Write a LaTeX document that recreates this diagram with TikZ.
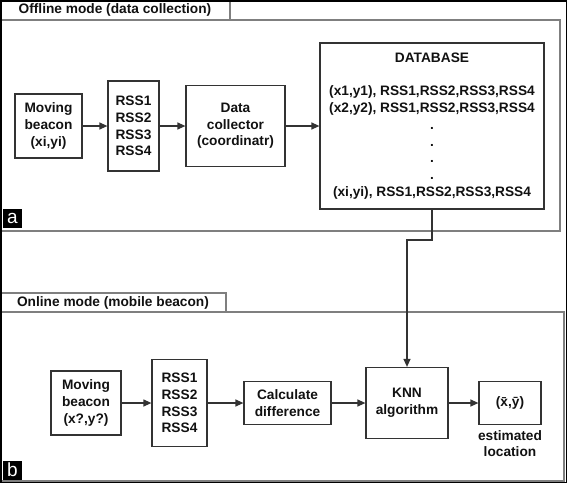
\documentclass[tikz,border=0pt]{standalone}
\usepackage{fontspec}
\setmainfont{Liberation Sans}
\usetikzlibrary{arrows.meta,positioning}

\definecolor{boxline}{HTML}{333333}
\definecolor{panelline}{HTML}{7F7F7F}
\definecolor{inktext}{HTML}{111111}

\begin{document}
\begin{tikzpicture}[x=1pt, y=-1pt,
  every node/.style = {font=\fontsize{13.7}{16.7}\selectfont\bfseries,
    text=inktext, align=center, inner sep=0pt},
  block/.style = {shape=rectangle, draw=boxline, line width=1.2pt},
  panel/.style = {draw=panelline, line width=1.5pt},
  tab/.style = {shape=rectangle, draw=panelline, line width=1.5pt, fill=white},
  tag/.style = {shape=rectangle, fill=black, text=white, minimum size=19pt,
    font=\fontsize{19}{19}\selectfont},
  arr/.style = {draw=boxline, line width=1.2pt,
    -{Triangle[length=8pt,width=7pt]}}]
  \useasboundingbox (0,0) rectangle (567,483);

  % offline mode
  \draw[panel] (0,20) rectangle (560,231);
  \node[tab, minimum width=230pt, minimum height=20pt] (taba) at (115,10)
    {Offline mode (data collection)};
  \node[tag] (taga) at (12.5,218) {a};

  \node[block, minimum width=67pt, minimum height=64pt] (beacona) at (48.5,126)
    {Moving\\beacon\\(xi,yi)};
  \node[block, minimum width=51pt, minimum height=90pt] (rssa) at (133.5,126)
    {RSS1\\RSS2\\RSS3\\RSS4};
  \node[block, minimum width=99pt, minimum height=81pt] (collector) at (235.5,126)
    {Data\\collector\\(coordinatr)};
  \node[block, minimum width=224pt, minimum height=166pt] (db) at (432,126)
    {DATABASE\\[16.7pt]
     (x1,y1), RSS1,RSS2,RSS3,RSS4\\
     (x2,y2), RSS1,RSS2,RSS3,RSS4\\
     .\\.\\.\\.\\
     (xi,yi), RSS1,RSS2,RSS3,RSS4};

  \draw[arr] (beacona) -- (rssa);
  \draw[arr] (rssa) -- (collector);
  \draw[arr] (collector) -- (db);

  % online mode
  \draw[panel] (0,312) rectangle (564,481);
  \node[tab, minimum width=226pt, minimum height=19pt] (tabb) at (113,302.5)
    {Online mode (mobile beacon)};
  \node[tag] (tagb) at (12.5,470) {b};

  \node[block, minimum width=70pt, minimum height=64pt] (beaconb) at (86,403)
    {Moving\\beacon\\(x?,y?)};
  \node[block, minimum width=55pt, minimum height=87pt] (rssb) at (179.5,403)
    {RSS1\\RSS2\\RSS3\\RSS4};
  \node[block, minimum width=87pt, minimum height=43pt] (diff) at (287.5,403)
    {Calculate\\difference};
  \node[block, minimum width=82pt, minimum height=71pt] (knn) at (407,403)
    {KNN\\algorithm};
  \node[block, minimum width=62pt, minimum height=43pt] (est) at (510,403)
    {(\={x},\={y})};
  \node[below=5pt of est] (estlabel) {estimated\\location};

  \draw[arr] (beaconb) -- (rssb);
  \draw[arr] (rssb) -- (diff);
  \draw[arr] (diff) -- (knn);
  \draw[arr] (knn) -- (est);

  % database to knn
  \coordinate (bend) at (432,240);
  \draw[arr] (db.south) -- (bend) -| (knn.north);

  \draw[black, line width=1.5pt] (0.75,0.75) rectangle (566.25,482.25);
\end{tikzpicture}
\end{document}
